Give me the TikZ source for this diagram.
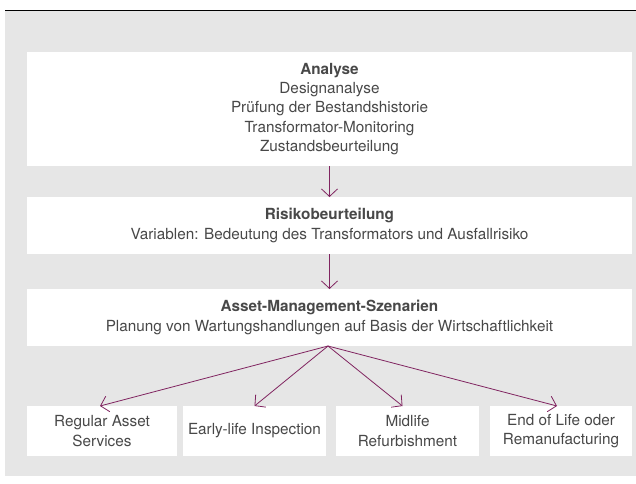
\documentclass[tikz,border=0pt]{standalone}
\usepackage{fontspec}
\setmainfont{TeX Gyre Heros}
\usetikzlibrary{arrows.meta}
\definecolor{panelgrey}{RGB}{230,230,230}
\definecolor{txtgrey}{RGB}{72,72,72}
\definecolor{flow}{RGB}{128,36,96}
\begin{document}
\begin{tikzpicture}[x=1pt,y=-1pt,
  card/.style={fill=white, draw=none, inner sep=0pt, outer sep=0pt, anchor=north west,
    align=center, text=txtgrey, font=\fontsize{15.3}{19.4}\selectfont},
  wide/.style={card, minimum width=605pt},
  small/.style={card, minimum height=50pt},
  flowarrow/.style={draw=flow, line width=0.8pt, -{Straight Barb[length=7.5pt,width=16pt,line width=0.8pt]}}
]
\useasboundingbox (0,0) rectangle (636,483);
% panel background and top rule
\fill[panelgrey] (5,11) rectangle (636,476);
\draw[black, line width=1.1pt] (5,10.5) -- (636,10.5);

% stacked stages
\node[wide, minimum height=114pt] (analyse) at (27,52)
  {\textbf{Analyse}\\Designanalyse\\Prüfung der Bestandshistorie\\Transformator-Monitoring\\Zustandsbeurteilung};
\node[wide, minimum height=57pt] (risiko) at (27,197)
  {\textbf{Risikobeurteilung}\\Variablen: Bedeutung des Transformators und Ausfallrisiko};
\node[wide, minimum height=57pt] (szen) at (27,289)
  {\textbf{Asset-Management-Szenarien}\\Planung von Wartungshandlungen auf Basis der Wirtschaftlichkeit};

% scenario options
\node[small, minimum width=150pt] (ras) at (27,406) {Regular Asset\\Services};
\node[small, minimum width=143pt] (eli) at (183,406) {Early-life Inspection};
\node[small, minimum width=143pt] (mr) at (336,406) {Midlife\\Refurbishment};
\node[small, minimum width=142pt] (eol) at (490,406) {End of Life oder\\Remanufacturing};

% connectors
\draw[flowarrow] (analyse.south) -- (risiko.north);
\draw[flowarrow] (risiko.south) -- (szen.north);
\coordinate (fan) at ([xshift=-1.5pt]szen.south);
\draw[flowarrow] (fan) -- ([xshift=-2pt]ras.north);
\draw[flowarrow] (fan) -- (eli.north);
\draw[flowarrow] (fan) -- ([xshift=-5pt]mr.north);
\draw[flowarrow] (fan) -- ([xshift=-4pt]eol.north);
\end{tikzpicture}
\end{document}
